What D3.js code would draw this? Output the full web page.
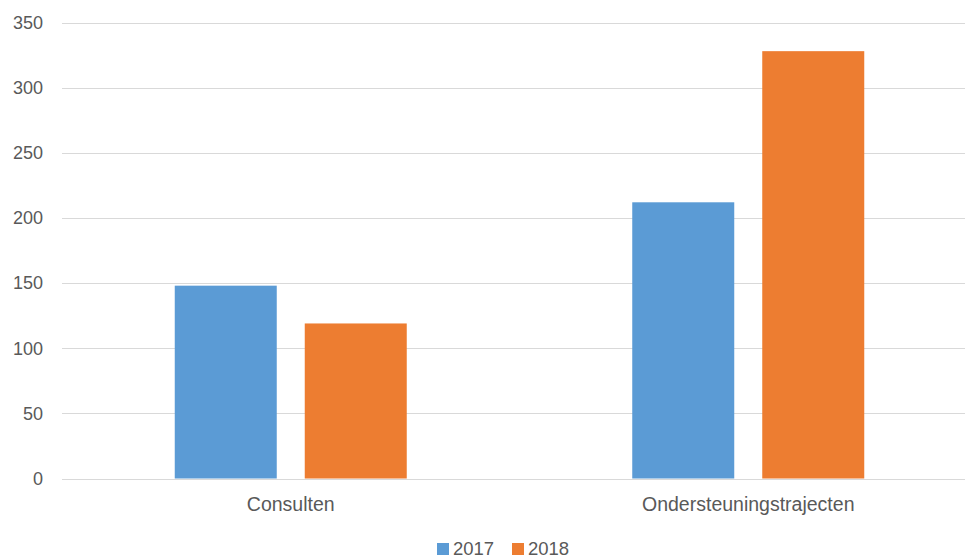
<!DOCTYPE html>
<html>
<head>
<meta charset="utf-8">
<script src="https://cdn.jsdelivr.net/npm/d3@7"></script>
<style>
  body { margin: 0; background: #fff; }
  text { font-family: "Liberation Sans", Arial, sans-serif; fill: #595959; }
</style>
</head>
<body>
<div id="chart"></div>
<script>
// data
var categories = ["Consulten", "Ondersteuningstrajecten"];
var seriesNames = ["2017", "2018"];
var values2017 = [148, 212];
var values2018 = [119, 328];
var yTicks = [0, 50, 100, 150, 200, 250, 300, 350];
var colors = ["#5B9BD5", "#ED7D31"];

var data = categories.map(function(c, i) {
  return {group: c, "2017": values2017[i], "2018": values2018[i]};
});

// dimensions
var W = 965, H = 558;
var margin = {top: 22, right: -12, bottom: 80, left: 62};
var width = W - margin.left - margin.right,
    height = H - margin.top - margin.bottom;

var svg = d3.select("#chart").append("svg")
    .attr("width", W).attr("height", H)
  .append("g")
    .attr("transform", "translate(" + margin.left + "," + margin.top + ")");

var y = d3.scaleLinear().domain([0, 350]).range([height + 0.5, 0.5]);
var x = d3.scaleBand().domain(categories).range([0, width]).padding(0);

// bars sit inside the band with wide gaps on both sides
var groupWidth = 232;
var xSub = d3.scaleBand().domain(seriesNames)
  .range([(x.bandwidth() - groupWidth) / 2, (x.bandwidth() + groupWidth) / 2])
  .paddingInner(28 / 130).paddingOuter(0);

// gridlines
svg.append("g").selectAll("line")
  .data(yTicks)
  .enter().append("line")
    .attr("x1", 0).attr("x2", W)
    .attr("y1", function(d) { return Math.round(y(d)) + 0.5; })
    .attr("y2", function(d) { return Math.round(y(d)) + 0.5; })
    .attr("stroke", "#D9D9D9")
    .attr("stroke-width", 1);

// y labels
svg.append("g").selectAll("text")
  .data(yTicks)
  .enter().append("text")
    .attr("x", -19)
    .attr("y", function(d) { return y(d); })
    .attr("dy", "0.35em")
    .style("text-anchor", "end")
    .style("font-size", "18px")
    .text(function(d) { return d; });

// bars
svg.append("g").selectAll("g")
  .data(data)
  .enter().append("g")
    .attr("transform", function(d) { return "translate(" + x(d.group) + ",0)"; })
  .selectAll("rect")
  .data(function(d) { return seriesNames.map(function(k) { return {key: k, value: d[k]}; }); })
  .enter().append("rect")
    .attr("x", function(d) { return xSub(d.key); })
    .attr("y", function(d) { return y(d.value); })
    .attr("width", xSub.bandwidth())
    .attr("height", function(d) { return y(0) - y(d.value); })
    .attr("fill", function(d, i) { return colors[i]; });

// baseline
svg.append("line")
  .attr("x1", 0).attr("x2", W)
  .attr("y1", Math.round(y(0)) + 0.5).attr("y2", Math.round(y(0)) + 0.5)
  .attr("stroke", "#D9D9D9");

// category labels
svg.append("g").selectAll("text")
  .data(categories)
  .enter().append("text")
    .attr("x", function(d) { return x(d) + x.bandwidth() / 2; })
    .attr("y", 511 - margin.top)
    .style("text-anchor", "middle")
    .style("font-size", "19.5px")
    .text(function(d) { return d; });

// legend
var legend = d3.select("svg").append("g");
var legendX = [437, 512];
seriesNames.forEach(function(s, i) {
  legend.append("rect")
    .attr("x", legendX[i]).attr("y", 543)
    .attr("width", 12).attr("height", 12)
    .attr("fill", colors[i]);
  legend.append("text")
    .attr("x", legendX[i] + 16).attr("y", 555)
    .style("font-size", "18.5px")
    .text(s);
});
</script>
</body>
</html>
